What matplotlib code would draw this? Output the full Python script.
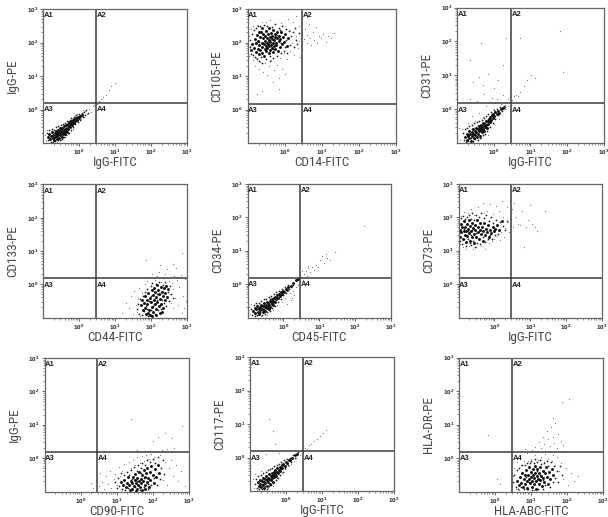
import matplotlib
matplotlib.use("Agg")
import matplotlib.pyplot as plt
import numpy as np

plt.rcParams["font.family"] = ["Roboto Condensed", "Liberation Sans", "DejaVu Sans"]
plt.rcParams["mathtext.fontset"] = "custom"
plt.rcParams["mathtext.bf"] = "Liberation Sans:bold"
plt.rcParams["mathtext.rm"] = "Liberation Sans:bold"

W, H = 608, 517

# all events are (log10 FITC, log10 PE)
IGG_IGG_CORE = [(-.86,-.83),(-.82,-.74),(-.80,-.88),(-.77,-.79),(-.75,-.68),(-.73,-.85),(-.71,-.76),(-.70,-.92),(-.68,-.70),(-.67,-.81),(-.65,-.63),(-.64,-.75),(-.62,-.87),(-.61,-.69),(-.60,-.79),(-.58,-.60),(-.57,-.72),(-.56,-.84),(-.55,-.66),(-.53,-.77),(-.52,-.56),(-.51,-.70),(-.50,-.62),(-.48,-.81),(-.47,-.68),(-.46,-.54),(-.45,-.74),(-.43,-.60),(-.42,-.66),(-.41,-.50),(-.40,-.72),(-.38,-.57),(-.37,-.63),(-.36,-.47),(-.34,-.54),(-.33,-.67),(-.31,-.44),(-.30,-.58),(-.28,-.49),(-.27,-.38),(-.25,-.53),(-.24,-.44),(-.22,-.35),(-.20,-.47),(-.19,-.39),(-.17,-.31),(-.15,-.40),(-.13,-.29),(-.11,-.35),(-.09,-.26),(-.06,-.30),(-.04,-.21),(-.01,-.24),(.03,-.19),(.07,-.16)]
IGG_IGG_MID = [(-.88,-.70),(-.85,-.92),(-.83,-.62),(-.79,-.97),(-.76,-.58),(-.72,-.96),(-.69,-.60),(-.66,-.95),(-.63,-.52),(-.59,-.92),(-.57,-.50),(-.54,-.90),(-.49,-.46),(-.47,-.88),(-.44,-.44),(-.42,-.82),(-.39,-.40),(-.35,-.76),(-.32,-.34),(-.29,-.70),(-.26,-.30),(-.23,-.62),(-.21,-.26),(-.16,-.52),(-.14,-.22),(-.10,-.44),(-.07,-.16),(-.03,-.36),(.01,-.13),(.04,-.30),(.08,-.09),(.11,-.22),(.14,-.06),(.17,-.16),(.20,-.02),(.24,-.09),(-.58,-.68),(-.50,-.76),(-.44,-.56),(-.36,-.60),(-.26,-.42),(-.16,-.36),(-.70,-.84),(-.62,-.78)]
IGG_IGG_SPARSE = [(-.92,-.95),(-.95,-.75),(-.88,-.62),(-.78,-.96),(-.62,-.97),(-.50,-.92),(-.38,-.83),(-.30,-.72),(-.18,-.58),(-.12,-.18),(-.05,-.12),(.05,-.28),(.12,-.12),(.18,-.05),(.22,-.14),(.28,.02),(.33,-.08),(.38,.10),(.42,.12),(.46,.18),(.50,.16),(.55,.25),(.62,.30),(.68,.38),(.74,.42),(.82,.58),(.90,.70),(1.0,.80),(.15,-.22),(.10,.00)]

CD14_CD105_CORE = [(-.82,1.85),(-.80,2.10),(-.78,1.72),(-.76,1.98),(-.74,2.22),(-.72,1.82),(-.71,2.05),(-.69,1.65),(-.68,1.92),(-.66,2.15),(-.65,1.78),(-.64,2.30),(-.62,2.00),(-.61,1.70),(-.60,1.88),(-.58,2.12),(-.57,2.26),(-.56,1.95),(-.55,1.60),(-.54,1.80),(-.53,2.05),(-.52,2.18),(-.51,1.90),(-.50,1.74),(-.49,2.34),(-.48,2.00),(-.47,2.12),(-.46,1.84),(-.45,1.96),(-.44,2.24),(-.43,1.68),(-.42,2.08),(-.41,1.90),(-.40,2.16),(-.39,2.02),(-.38,1.78),(-.37,2.28),(-.36,1.94),(-.35,2.10),(-.34,1.85),(-.33,2.20),(-.32,2.00),(-.31,1.72),(-.30,2.36),(-.29,2.08),(-.28,1.90),(-.27,2.16),(-.26,1.82),(-.25,2.26),(-.24,2.00),(-.22,1.92),(-.21,2.12),(-.19,2.32),(-.18,1.76),(-.16,2.04),(-.15,2.20),(-.13,1.88),(-.11,2.10),(-.09,2.30),(-.07,1.95),(-.05,2.16),(-.02,2.02),(.02,2.24),(.06,1.90),(.10,2.12),(-.60,2.42),(-.70,2.32),(-.42,2.44),(-.88,1.96),(-.90,1.78)]
CD14_CD105_MID = [(-.94,1.88),(-.92,2.08),(-.90,1.66),(-.87,2.24),(-.85,1.62),(-.83,2.36),(-.81,1.56),(-.78,2.44),(-.75,1.50),(-.72,2.48),(-.68,1.46),(-.65,2.50),(-.60,1.40),(-.56,2.52),(-.50,1.50),(-.46,2.50),(-.40,1.44),(-.35,2.46),(-.30,1.54),(-.26,2.54),(-.20,1.60),(-.15,2.42),(-.10,1.68),(-.06,2.50),(-.02,1.76),(.03,2.40),(.08,1.70),(.12,2.34),(.15,1.92),(.18,2.18),(.22,2.30),(.25,1.86),(.28,2.44),(.30,2.08),(.34,1.96),(.38,2.28),(-.80,1.98),(-.70,2.02),(-.58,1.98),(-.44,2.04),(-.32,1.82),(-.20,2.22),(-.10,2.00),(.00,1.88),(-.64,1.56),(-.38,1.60),(-.12,2.38),(.04,2.06)]
CD14_CD105_SPARSE = [(-.97,2.20),(-.95,1.60),(-.93,1.90),(-.90,2.40),(-.86,1.48),(-.84,2.50),(-.80,1.30),(-.77,1.55),(-.74,2.52),(-.70,1.20),(-.66,1.42),(-.62,2.60),(-.58,1.12),(-.54,1.38),(-.50,2.62),(-.46,1.02),(-.43,1.30),(-.40,2.68),(-.36,1.48),(-.32,.82),(-.28,1.18),(-.25,2.55),(-.20,1.34),(-.16,.95),(-.12,1.55),(-.10,2.58),(-.06,1.22),(-.02,1.70),(.02,2.48),(.06,1.50),(.10,2.70),(.14,1.75),(.16,2.38),(.20,2.00),(.24,2.62),(.26,1.62),(.30,2.80),(.32,2.20),(.36,1.85),(.38,2.50),(.40,2.05),(.42,1.58),(.44,2.72),(.46,2.30),(-.15,.62),(-.62,.55),(-.75,.45),(.02,1.05),(.52,2.10),(.56,2.40),(.60,1.98),(.62,2.22),(.66,2.55),(.70,2.12),(.72,1.92),(.76,2.30),(.80,2.08),(.84,2.45),(.88,2.00),(.92,2.18),(.98,2.12),(1.05,2.24),(1.12,2.02),(1.18,2.18),(1.26,2.12),(1.34,2.28),(.60,2.75),(.48,1.80)]

IGG_CD31_CORE = [(-.78,-.82),(-.74,-.72),(-.72,-.90),(-.70,-.78),(-.68,-.66),(-.66,-.85),(-.64,-.74),(-.62,-.94),(-.60,-.68),(-.58,-.80),(-.56,-.60),(-.55,-.74),(-.53,-.86),(-.52,-.64),(-.50,-.76),(-.48,-.56),(-.47,-.68),(-.45,-.82),(-.44,-.60),(-.42,-.72),(-.41,-.50),(-.40,-.64),(-.38,-.56),(-.37,-.78),(-.35,-.62),(-.34,-.46),(-.32,-.68),(-.31,-.52),(-.29,-.58),(-.28,-.42),(-.26,-.64),(-.25,-.48),(-.23,-.54),(-.22,-.36),(-.20,-.46),(-.18,-.56),(-.16,-.34),(-.15,-.44),(-.13,-.28),(-.11,-.38),(-.09,-.24),(-.07,-.33),(-.05,-.18),(-.03,-.26),(-.01,-.14),(.02,-.20),(.05,-.08),(.08,-.15),(.12,-.05),(.16,-.10),(.20,.00),(.25,.03)]
IGG_CD31_MID = [(-.84,-.70),(-.82,-.92),(-.79,-.60),(-.76,-.96),(-.73,-.56),(-.70,-.94),(-.66,-.50),(-.63,-.86),(-.60,-.46),(-.57,-.94),(-.54,-.42),(-.50,-.88),(-.46,-.38),(-.43,-.90),(-.39,-.34),(-.36,-.84),(-.33,-.32),(-.30,-.76),(-.27,-.26),(-.24,-.72),(-.21,-.20),(-.17,-.64),(-.14,-.14),(-.10,-.52),(-.06,-.08),(-.02,-.40),(.01,-.04),(.05,-.28),(.09,.00),(.13,-.18),(.18,.06),(.22,-.06),(.28,.10),(.32,.06),(-.60,-.60),(-.50,-.70),(-.42,-.50),(-.33,-.60),(-.24,-.40),(-.15,-.30),(-.07,-.22),(-.66,-.76)]
IGG_CD31_SPARSE = [(-.92,-.90),(-.94,-.55),(-.85,-.60),(-.75,-.95),(-.70,-.40),(-.65,.30),(-.60,-.20),(-.55,-.96),(-.50,-.35),(-.45,.25),(-.40,-.12),(-.35,-.85),(-.30,-.22),(-.25,.45),(-.20,.10),(-.15,-.75),(-.10,.20),(-.05,.32),(0,-.45),(.05,.18),(.10,.30),(.15,-.30),(.20,.15),(.25,.42),(.30,.12),(.34,.22),(.38,.30),(.42,.22),(.46,.36),(.50,.28),(.55,.38),(.60,.42),(.66,.40),(.72,.50),(.82,.68),(.92,.85),(1.02,1.02),(1.12,.92),(.34,2.10),(.72,2.10),(1.80,2.30),(1.90,1.10),(-.35,1.95),(-.65,1.45),(.25,1.30),(-.15,1.05),(-.40,.95),(-.55,.80),(.0,.62),(-.30,.70),(.12,.85),(.22,.05),(.30,.0),(.38,.10)]

CD44_CD133_CORE = [(1.72,-.62),(1.76,-.48),(1.78,-.78),(1.80,-.55),(1.82,-.36),(1.84,-.70),(1.86,-.88),(1.88,-.46),(1.90,-.60),(1.92,-.26),(1.94,-.76),(1.96,-.40),(1.98,-.92),(2.00,-.54),(2.02,-.18),(2.03,-.68),(2.05,-.32),(2.06,-.84),(2.08,-.46),(2.09,-.10),(2.11,-.60),(2.12,-.24),(2.14,-.74),(2.15,-.38),(2.17,-.02),(2.18,-.52),(2.20,-.16),(2.21,-.66),(2.22,-.30),(2.24,-.44),(2.25,-.86),(2.27,-.08),(2.28,-.58),(2.30,-.22),(2.32,-.36),(2.34,-.70),(2.36,-.12),(2.38,-.48),(2.40,-.26),(2.42,-.04),(2.45,-.38),(2.48,-.14),(2.02,-.96),(2.14,-.92),(1.92,-.86),(2.30,-.84)]
CD44_CD133_MID = [(1.60,-.74),(1.64,-.58),(1.67,-.88),(1.70,-.44),(1.74,-.92),(1.77,-.34),(1.80,-.80),(1.83,-.22),(1.87,-.66),(1.90,-.14),(1.93,-.94),(1.96,-.52),(1.99,-.06),(2.01,-.78),(2.04,.04),(2.07,-.58),(2.10,-.90),(2.13,.00),(2.16,-.48),(2.19,-.78),(2.23,.06),(2.26,-.28),(2.29,-.74),(2.33,-.02),(2.36,-.56),(2.39,.08),(2.43,-.66),(2.46,-.24),(2.50,-.50),(2.53,-.06),(2.56,-.30),(2.60,-.42),(2.00,-.34),(2.12,-.42),(2.24,-.62),(1.88,-.74),(1.94,-.50),(2.06,-.66),(2.18,-.30),(2.30,-.46)]
CD44_CD133_SPARSE = [(1.20,-.85),(1.30,-.55),(1.38,-.70),(1.45,-.35),(1.50,-.90),(1.54,-.20),(1.58,-.62),(1.62,-.82),(1.65,-.40),(1.68,-.10),(1.70,-.95),(1.75,-.25),(1.82,.02),(1.88,.10),(1.95,.18),(2.02,.30),(2.10,.12),(2.16,.24),(2.22,.38),(2.28,.08),(2.34,.18),(2.40,.30),(2.45,.45),(2.50,.10),(2.52,-.30),(2.55,-.55),(2.58,.05),(2.60,-.15),(2.62,-.72),(2.65,.25),(2.68,-.40),(2.72,.12),(2.75,-.62),(2.78,-.08),(2.82,.28),(2.85,-.85),(2.88,-.35),(2.92,-.70),(2.95,.15),(2.98,-.50),(2.85,.95),(2.60,.62),(1.85,.72),(2.25,.58),(2.70,.50)]

CD45_CD34_CORE = [(-.84,-.80),(-.80,-.72),(-.78,-.88),(-.75,-.76),(-.73,-.65),(-.71,-.84),(-.69,-.73),(-.67,-.90),(-.65,-.68),(-.64,-.79),(-.62,-.62),(-.60,-.74),(-.58,-.85),(-.57,-.66),(-.55,-.77),(-.53,-.58),(-.52,-.70),(-.50,-.81),(-.49,-.62),(-.47,-.72),(-.46,-.54),(-.44,-.66),(-.43,-.58),(-.41,-.76),(-.40,-.62),(-.38,-.50),(-.37,-.68),(-.35,-.54),(-.33,-.60),(-.32,-.45),(-.30,-.62),(-.28,-.50),(-.26,-.42),(-.24,-.54),(-.22,-.38),(-.20,-.46),(-.18,-.34),(-.15,-.42),(-.13,-.30),(-.10,-.36),(-.08,-.25),(-.05,-.30),(-.02,-.20),(.02,-.24),(.06,-.14),(.10,-.18),(.14,-.08),(.20,-.06),(.26,.02),(.34,.12),(.42,.15)]
CD45_CD34_MID = [(-.90,-.76),(-.87,-.92),(-.83,-.64),(-.80,-.96),(-.76,-.58),(-.73,-.94),(-.69,-.56),(-.66,-.88),(-.62,-.50),(-.59,-.94),(-.55,-.46),(-.52,-.90),(-.48,-.44),(-.45,-.84),(-.41,-.40),(-.38,-.80),(-.34,-.36),(-.31,-.72),(-.27,-.30),(-.24,-.66),(-.20,-.24),(-.16,-.54),(-.12,-.20),(-.08,-.44),(-.04,-.14),(.00,-.34),(.04,-.08),(.08,-.28),(.12,-.02),(.16,-.16),(.22,-.10),(.28,-.04),(-.55,-.62),(-.44,-.72),(-.36,-.46),(-.28,-.58),(-.18,-.40),(-.08,-.32),(-.64,-.84),(-.72,-.74)]
CD45_CD34_SPARSE = [(-.94,-.90),(-.96,-.70),(-.90,-.60),(-.78,-.96),(-.62,-.97),(-.45,-.92),(-.30,-.78),(-.18,-.62),(-.05,-.55),(.05,-.42),(.10,-.60),(.18,-.28),(.22,-.48),(.28,-.20),(.34,-.10),(.40,-.02),(.30,-.32),(.46,.18),(.50,.22),(.55,.12),(.58,.30),(.62,.40),(.66,.25),(.70,.48),(.75,.36),(.80,.52),(.85,.42),(.90,.58),(.96,.50),(1.02,.72),(1.08,.85),(1.12,.62),(1.18,.90),(1.22,.78),(1.30,.72),(1.44,.95),(2.25,1.75),(.52,.40),(.68,.55),(.25,-.42)]

IGG_CD73_CORE = [(-.97,1.62),(-.95,1.42),(-.94,1.80),(-.92,1.55),(-.90,1.70),(-.88,1.35),(-.86,1.60),(-.85,1.88),(-.83,1.48),(-.81,1.72),(-.80,1.26),(-.78,1.58),(-.76,1.80),(-.75,1.44),(-.73,1.66),(-.72,1.92),(-.70,1.52),(-.68,1.30),(-.67,1.74),(-.65,1.60),(-.63,1.40),(-.62,1.84),(-.60,1.68),(-.58,1.50),(-.56,1.22),(-.55,1.62),(-.53,1.78),(-.51,1.42),(-.49,1.92),(-.47,1.56),(-.45,1.70),(-.43,1.34),(-.41,1.62),(-.39,1.82),(-.37,1.50),(-.35,1.72),(-.33,1.28),(-.31,1.60),(-.28,1.84),(-.26,1.46),(-.24,1.66),(-.21,1.56),(-.18,1.76),(-.15,1.40),(-.12,1.62),(-.09,1.52),(-.05,1.70),(-.02,1.58),(.03,1.66),(.08,1.78),(.14,1.62),(.20,1.90)]
IGG_CD73_MID = [(-.96,1.30),(-.93,1.98),(-.89,1.20),(-.87,2.04),(-.84,1.36),(-.82,1.94),(-.79,1.14),(-.77,2.02),(-.74,1.34),(-.71,2.08),(-.69,1.22),(-.66,1.96),(-.64,1.16),(-.61,2.12),(-.59,1.30),(-.57,1.92),(-.54,1.12),(-.52,2.06),(-.48,1.24),(-.44,2.00),(-.40,1.20),(-.36,2.14),(-.32,1.40),(-.29,1.98),(-.25,1.26),(-.22,2.06),(-.19,1.36),(-.16,1.88),(-.13,1.46),(-.10,2.00),(-.06,1.36),(-.03,1.84),(.01,1.46),(.05,1.92),(.10,1.50),(.16,1.86),(.24,1.74),(.30,1.62),(.36,1.90),(-.74,1.58),(-.62,1.62),(-.50,1.54),(-.84,1.66),(-.66,1.46)]
IGG_CD73_SPARSE = [(-.98,1.95),(-.96,1.20),(-.92,2.05),(-.88,1.12),(-.84,2.15),(-.80,1.05),(-.74,2.12),(-.70,1.14),(-.66,2.25),(-.60,1.06),(-.56,2.08),(-.50,1.10),(-.46,2.32),(-.42,2.02),(-.38,1.14),(-.32,2.44),(-.28,2.12),(-.25,1.04),(-.20,2.20),(-.16,1.22),(-.12,2.40),(-.08,1.30),(-.04,2.10),(0,1.36),(.04,2.34),(.08,1.44),(.12,2.20),(.15,1.32),(.18,1.56),(.22,2.48),(.25,2.02),(.28,1.42),(.30,1.68),(.34,2.30),(.38,1.86),(.42,1.56),(.46,1.96),(.50,2.25),(.52,1.72),(.56,2.42),(.60,2.02),(.66,1.80),(.72,1.78),(.78,2.20),(.82,1.10),(.88,1.70),(.95,1.92),(1.00,2.38),(1.05,1.80),(1.12,1.72),(1.18,1.60),(1.40,2.20)]

CD90_IGG_CORE = [(1.12,-.72),(1.18,-.80),(1.22,-.66),(1.26,-.88),(1.30,-.74),(1.33,-.58),(1.36,-.82),(1.39,-.68),(1.42,-.92),(1.44,-.76),(1.46,-.56),(1.48,-.84),(1.50,-.66),(1.52,-.48),(1.54,-.76),(1.56,-.94),(1.58,-.60),(1.60,-.80),(1.62,-.70),(1.63,-.42),(1.65,-.88),(1.67,-.62),(1.69,-.76),(1.70,-.52),(1.72,-.96),(1.74,-.68),(1.76,-.36),(1.78,-.80),(1.80,-.56),(1.82,-.46),(1.84,-.72),(1.86,-.30),(1.88,-.60),(1.90,-.86),(1.92,-.42),(1.94,-.66),(1.97,-.24),(2.00,-.50),(2.03,-.74),(2.06,-.34),(2.10,-.58),(2.14,-.20),(2.18,-.44),(1.55,-.98),(1.38,-.96),(1.80,-.92)]
CD90_IGG_MID = [(.96,-.72),(1.00,-.90),(1.04,-.60),(1.08,-.84),(1.12,-.46),(1.16,-.94),(1.20,-.52),(1.24,-.96),(1.28,-.42),(1.32,-.90),(1.36,-.50),(1.40,-.36),(1.44,-.96),(1.48,-.28),(1.52,-.88),(1.56,-.38),(1.60,-.20),(1.64,-.96),(1.68,-.30),(1.72,-.14),(1.76,-.88),(1.80,-.22),(1.84,-.06),(1.88,-.94),(1.92,-.12),(1.96,-.80),(2.00,-.02),(2.04,-.60),(2.08,-.14),(2.12,-.80),(2.16,.02),(2.20,-.62),(2.24,-.30),(2.28,-.06),(2.32,-.48),(1.42,-.62),(1.56,-.68),(1.68,-.46),(1.76,-.60),(1.88,-.78)]
CD90_IGG_SPARSE = [(.30,-.75),(.35,-.90),(.42,-.65),(.50,-.85),(.55,-.45),(.60,-.72),(.66,-.92),(.70,-.55),(.76,-.78),(.82,-.38),(.86,-.90),(.92,-.62),(.96,-.48),(1.02,-.80),(1.06,-.28),(1.10,-.55),(1.16,-.38),(1.22,-.18),(1.28,-.42),(1.34,-.12),(1.40,-.30),(1.46,-.05),(1.52,-.22),(1.58,.02),(1.64,-.14),(1.70,.06),(1.76,-.08),(1.82,.10),(1.90,-.02),(1.96,.12),(2.04,.04),(2.12,.18),(2.20,.10),(2.26,.24),(2.34,-.12),(2.40,.28),(2.45,-.30),(2.52,-.05),(2.58,-.55),(2.65,-.20),(2.72,-.70),(2.80,-.40),(2.90,-.85),(2.15,.62),(2.35,.75),(2.02,.52),(2.55,.60),(2.82,.95),(1.58,.25),(1.78,.22),(1.40,1.18),(2.60,.30),(2.30,-.65),(2.40,-.80)]

IGG_CD117_CORE = [(-.78,-.72),(-.75,-.84),(-.73,-.66),(-.71,-.78),(-.69,-.88),(-.67,-.70),(-.65,-.60),(-.64,-.82),(-.62,-.72),(-.60,-.92),(-.58,-.63),(-.57,-.76),(-.55,-.54),(-.54,-.68),(-.52,-.84),(-.51,-.60),(-.49,-.72),(-.48,-.50),(-.46,-.64),(-.45,-.80),(-.43,-.56),(-.42,-.68),(-.40,-.46),(-.39,-.60),(-.37,-.72),(-.36,-.52),(-.34,-.42),(-.33,-.58),(-.31,-.48),(-.30,-.36),(-.28,-.54),(-.26,-.44),(-.24,-.32),(-.22,-.46),(-.20,-.38),(-.18,-.28),(-.16,-.40),(-.14,-.30),(-.12,-.22),(-.10,-.32),(-.07,-.18),(-.04,-.24),(-.01,-.12),(.03,-.16),(.07,-.08),(.12,-.06),(.17,.00),(.24,.06),(.30,.10)]
IGG_CD117_MID = [(-.86,-.78),(-.83,-.64),(-.80,-.90),(-.77,-.56),(-.74,-.94),(-.70,-.52),(-.66,-.94),(-.63,-.46),(-.59,-.86),(-.56,-.42),(-.53,-.94),(-.50,-.38),(-.47,-.86),(-.44,-.34),(-.41,-.82),(-.38,-.30),(-.35,-.76),(-.32,-.26),(-.29,-.68),(-.26,-.22),(-.23,-.60),(-.20,-.18),(-.16,-.52),(-.13,-.14),(-.09,-.42),(-.05,-.08),(-.02,-.32),(.02,-.04),(.06,-.22),(.10,.00),(.15,-.12),(.20,.06),(.26,.00),(.32,.16),(-.58,-.74),(-.48,-.62),(-.38,-.52),(-.28,-.42),(-.18,-.34),(-.66,-.78)]
IGG_CD117_SPARSE = [(-.90,-.90),(-.92,-.65),(-.85,-.50),(-.80,-.96),(-.70,-.40),(-.62,-.97),(-.50,-.92),(-.35,-.85),(-.25,-.62),(-.12,-.45),(-.02,-.35),(.08,-.25),(.15,-.18),(.22,-.10),(.28,-.02),(.33,.18),(.38,.08),(.42,.22),(.48,.15),(.52,.28),(.58,.24),(.64,.36),(.70,.40),(.78,.48),(.86,.56),(.94,.64),(1.02,.74),(1.10,.82),(-.48,1.15),(-.36,.78),(-.30,.40),(-.55,.10),(-.40,.18),(-.20,.12)]

ABC_DR_CORE = [(.62,-.68),(.66,-.80),(.70,-.56),(.73,-.74),(.76,-.44),(.78,-.88),(.80,-.64),(.82,-.52),(.84,-.78),(.86,-.36),(.88,-.68),(.90,-.90),(.92,-.50),(.94,-.62),(.95,-.28),(.97,-.76),(.99,-.42),(1.00,-.58),(1.02,-.86),(1.03,-.68),(1.05,-.34),(1.06,-.52),(1.08,-.78),(1.09,-.60),(1.11,-.24),(1.12,-.44),(1.14,-.70),(1.15,-.92),(1.17,-.54),(1.18,-.34),(1.20,-.62),(1.21,-.78),(1.23,-.46),(1.25,-.26),(1.26,-.66),(1.28,-.54),(1.30,-.84),(1.32,-.38),(1.34,-.60),(1.36,-.72),(1.38,-.46),(1.41,-.28),(1.44,-.58),(1.47,-.78),(1.50,-.42),(1.54,-.62),(1.58,-.34),(1.62,-.52)]
ABC_DR_MID = [(.50,-.72),(.54,-.50),(.57,-.86),(.60,-.36),(.64,-.94),(.68,-.30),(.72,-.88),(.76,-.22),(.80,-.94),(.84,-.20),(.88,-.14),(.92,-.94),(.96,-.16),(1.00,-.08),(1.04,-.96),(1.08,-.14),(1.12,-.04),(1.16,-.12),(1.20,-.94),(1.24,-.06),(1.28,-.18),(1.32,-.92),(1.36,-.14),(1.40,-.82),(1.44,-.10),(1.48,-.24),(1.52,-.86),(1.56,-.12),(1.60,-.72),(1.64,-.24),(1.68,-.60),(1.72,-.38),(1.76,-.72),(1.80,-.24),(1.86,-.50),(1.00,-.44),(1.10,-.68),(1.16,-.38),(1.26,-.50),(.94,-.72),(.86,-.56),(1.32,-.66)]
ABC_DR_SPARSE = [(.48,-.85),(.50,-.55),(.54,-.30),(.58,-.92),(.62,-.12),(.68,-.95),(.72,-.20),(.80,-.08),(.88,-.96),(.92,-.10),(1.00,-.02),(1.08,-.96),(1.12,.10),(1.20,-.05),(1.28,.04),(1.35,-.12),(1.40,.12),(1.46,-.02),(1.52,.18),(1.58,-.10),(1.62,.10),(1.68,-.22),(1.72,.02),(1.78,-.40),(1.84,-.15),(1.90,-.62),(1.96,-.30),(2.02,-.80),(2.10,-.45),(2.20,-.70),(2.30,-.55),(1.02,.25),(1.10,.32),(1.16,.18),(1.22,.48),(1.28,.30),(1.32,.62),(1.36,.42),(1.40,.22),(1.44,.80),(1.48,.56),(1.52,.36),(1.56,.92),(1.60,.64),(1.64,.44),(1.68,1.05),(1.72,.30),(1.76,.72),(1.82,.50),(1.88,.38),(1.62,1.20),(1.90,.18),(.90,.15),(.82,.28),(1.85,1.68),(2.05,1.75),(-.20,.68),(.05,-.62),(.15,-.78)]

PANELS = [
    ((43, 187, 9, 143), (96, 103), "IgG-FITC", "IgG-PE", IGG_IGG_CORE, IGG_IGG_MID, IGG_IGG_SPARSE),
    ((247.5, 395.5, 9, 143), (301.7, 103.5), "CD14-FITC", "CD105-PE", CD14_CD105_CORE, CD14_CD105_MID, CD14_CD105_SPARSE),
    ((457, 603.5, 7.5, 143), (510.7, 103.3), "IgG-FITC", "CD31-PE", IGG_CD31_CORE, IGG_CD31_MID, IGG_CD31_SPARSE),
    ((43, 187, 184.5, 317.5), (95.7, 278.3), "CD44-FITC", "CD133-PE", CD44_CD133_CORE, CD44_CD133_MID, CD44_CD133_SPARSE),
    ((247.5, 391, 184, 317.5), (300, 277.7), "CD45-FITC", "CD34-PE", CD45_CD34_CORE, CD45_CD34_MID, CD45_CD34_SPARSE),
    ((458.5, 602, 184, 317.5), (511, 278.3), "IgG-FITC", "CD73-PE", IGG_CD73_CORE, IGG_CD73_MID, IGG_CD73_SPARSE),
    ((44.5, 188.5, 358, 491.5), (97, 452), "CD90-FITC", "IgG-PE", CD90_IGG_CORE, CD90_IGG_MID, CD90_IGG_SPARSE),
    ((250, 394, 357, 491), (303, 451.3), "IgG-FITC", "CD117-PE", IGG_CD117_CORE, IGG_CD117_MID, IGG_CD117_SPARSE),
    ((459, 603, 357.5, 491.5), (512, 451.7), "HLA-ABC-FITC", "HLA-DR-PE", ABC_DR_CORE, ABC_DR_MID, ABC_DR_SPARSE),
]

DECADES = [1, 10, 100, 1000]
DECADE_LABELS = [r"$\mathbf{10^{0}}$", r"$\mathbf{10^{1}}$", r"$\mathbf{10^{2}}$", r"$\mathbf{10^{3}}$"]
MINOR = [m * d for d in [0.1, 1, 10, 100] for m in range(2, 10)]
AXIS_GREY = "#666666"
GATE_GREY = "#3a3a3a"
TEXT_GREY = "#4a4a4a"


def draw_panel(fig, box, gate, xlabel, ylabel, core, mid, sparse):
    left, right, top, bottom = box
    ax = fig.add_axes([left / W, 1 - bottom / H, (right - left) / W, (bottom - top) / H])
    ax.set_xscale("log")
    ax.set_yscale("log")
    ax.set_xlim(0.1, 1000)
    ax.set_ylim(0.1, 1000)

    xs, ys = np.power(10.0, np.array(sparse)).T
    ax.scatter(xs, ys, s=0.7, c="#777777", marker="o", linewidths=0)
    xm, ym = np.power(10.0, np.array(mid)).T
    ax.scatter(xm, ym, s=1.6, c="#222222", marker="o", linewidths=0)
    xc, yc = np.power(10.0, np.array(core)).T
    ax.scatter(xc, yc, s=4.5, c="#111111", marker="o", linewidths=0)

    # quadrant gate, placed from its pixel position on the panel
    gate_x = 10 ** (-1 + 4 * (gate[0] - left) / (right - left))
    gate_y = 10 ** (-1 + 4 * (bottom - gate[1]) / (bottom - top))
    ax.axvline(gate_x, color=GATE_GREY, lw=1.1)
    ax.axhline(gate_y, color=GATE_GREY, lw=1.1)

    for name, px, py in [("A1", 0.1, 1000), ("A2", gate_x, 1000), ("A3", 0.1, gate_y), ("A4", gate_x, gate_y)]:
        ax.annotate(name, (px, py), xytext=(0.5, -2.5), textcoords="offset points",
                    ha="left", va="top", fontsize=5.5, fontweight="bold",
                    family="Liberation Sans", color="#222222")

    ax.set_xticks(DECADES)
    ax.set_xticklabels(DECADE_LABELS)
    ax.set_yticks(DECADES)
    ax.set_yticklabels(DECADE_LABELS)
    ax.set_xticks(MINOR, minor=True)
    ax.set_yticks(MINOR, minor=True)
    ax.xaxis.set_minor_formatter(plt.NullFormatter())
    ax.yaxis.set_minor_formatter(plt.NullFormatter())
    ax.tick_params(which="major", length=2.5, width=0.7, color=AXIS_GREY, labelsize=4.5, pad=1, labelcolor="#222222")
    ax.tick_params(which="minor", length=1.3, width=0.5, color=AXIS_GREY)

    for spine in ax.spines.values():
        spine.set_color(AXIS_GREY)
        spine.set_linewidth(0.9)

    ax.set_xlabel(xlabel, fontsize=9.5, color=TEXT_GREY)
    ax.set_ylabel(ylabel, fontsize=9.5, color=TEXT_GREY)
    ax.xaxis.set_label_coords(0.5, -0.098)
    ax.yaxis.set_label_coords(-0.165, 0.5)


fig = plt.figure(figsize=(W / 100, H / 100), dpi=100)
for box, gate, xlabel, ylabel, core, mid, sparse in PANELS:
    draw_panel(fig, box, gate, xlabel, ylabel, core, mid, sparse)

fig.savefig("out.png", dpi=100)
